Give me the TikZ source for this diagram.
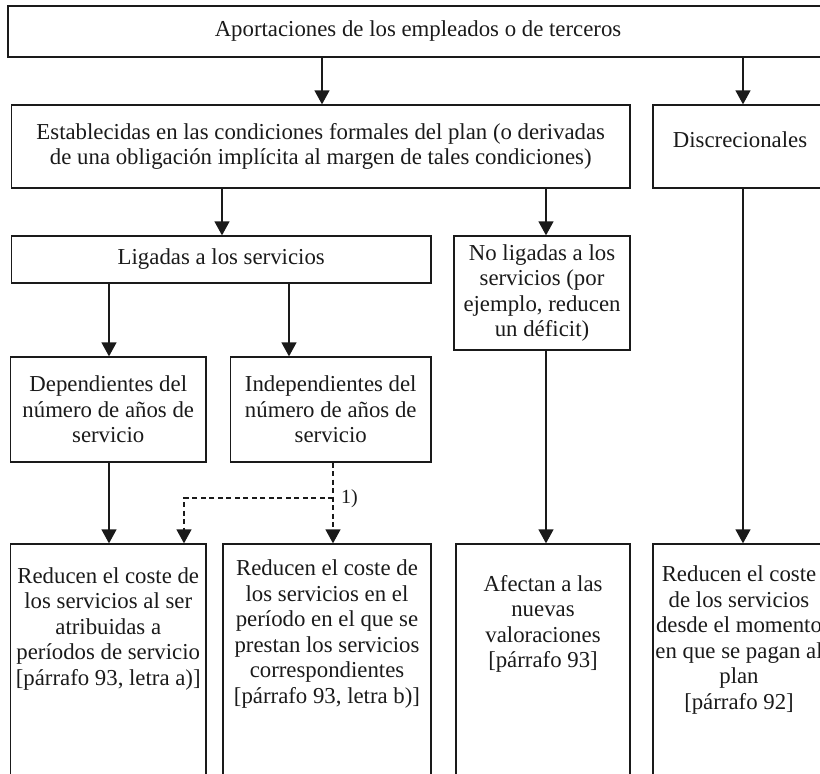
\documentclass[tikz,border=0pt]{standalone}
\usepackage{fontspec}
\setmainfont{Liberation Serif}
\usetikzlibrary{arrows.meta}
\definecolor{ink}{HTML}{1A1A1A}
\newcommand\dtxt{\fontsize{22.8pt}{25.5pt}\selectfont}
\newcommand\dsmall{\fontsize{20pt}{22pt}\selectfont}
\begin{document}
\begin{tikzpicture}[x=1pt,y=-1pt,
  box/.style={draw=ink, line width=1.3pt, rectangle, inner sep=0pt, align=center, font=\dtxt, text=ink},
  txt/.style={align=center, font=\dtxt, inner sep=0pt, text=ink},
  arr/.style={draw=ink, line width=1.3pt, -{Triangle[length=14pt,width=15pt]}},
  dsh/.style={arr, dash pattern=on 5pt off 3.5pt}]
\path[use as bounding box] (0,0) rectangle (820,774);
\clip (0,0) rectangle (820,774);

% boxes
\node[box, minimum width=820pt, minimum height=51pt] (top) at (418,31.5) {Aportaciones de los empleados o de terceros};
\node[box, minimum width=618.5pt, minimum height=83pt] (est) at (320.75,146.5) {Establecidas en las condiciones formales del plan (o derivadas\\de una obligación implícita al margen de tales condiciones)};
\node[box, minimum width=174pt, minimum height=83pt] (disc) at (740,146.5) {};
\node[txt] (disct) at (740,140) {Discrecionales};
\node[box, minimum width=419.5pt, minimum height=47pt] (lig) at (221.25,259.5) {Ligadas a los servicios};
\node[box, minimum width=176pt, minimum height=114pt] (nolig) at (542,293) {No ligadas a los\\servicios (por\\ejemplo, reducen\\un déficit)};
\node[box, minimum width=195.5pt, minimum height=105pt] (dep) at (108.25,409.5) {Dependientes del\\número de años de\\servicio};
\node[box, minimum width=200.5pt, minimum height=105pt] (indep) at (330.75,409.5) {Independientes del\\número de años de\\servicio};
\node[box, minimum width=195.5pt, minimum height=256pt] (b1) at (108.25,672) {};
\node[box, minimum width=208pt, minimum height=256pt] (b2) at (327,672) {};
\node[box, minimum width=174pt, minimum height=256pt] (b3) at (543,672) {};
\node[box, minimum width=172pt, minimum height=256pt] (b4) at (739,672) {};

\node[txt] (b1t) at (108.25,629) {Reducen el coste de\\los servicios al ser\\atribuidas a\\períodos de servicio\\{[}párrafo 93, letra a){]}};
\node[txt] (b2t) at (327,634) {Reducen el coste de\\los servicios en el\\período en el que se\\prestan los servicios\\correspondientes\\{[}párrafo 93, letra b){]}};
\node[txt] (b3t) at (543,624) {Afectan a las\\nuevas\\valoraciones\\{[}párrafo 93{]}};
\node[txt] (b4t) at (739,640) {Reducen el coste\\de los servicios\\desde el momento\\en que se pagan al\\plan\\{[}párrafo 92{]}};

% column positions
\coordinate (xA) at (322,0);
\coordinate (xB) at (743,0);
\coordinate (xC) at (222,0);
\coordinate (xD) at (546,0);
\coordinate (xE) at (109,0);
\coordinate (xF) at (289,0);
\coordinate (xG) at (333,0);
\coordinate (xH) at (184,0);
\coordinate (split) at (333,498);
\coordinate (bend) at (184,498);

% connectors
\draw[arr] (top.south -| xA) -- (est.north -| xA);
\draw[arr] (top.south -| xB) -- (disc.north -| xB);
\draw[arr] (est.south -| xC) -- (lig.north -| xC);
\draw[arr] (est.south -| xD) -- (nolig.north -| xD);
\draw[arr] (lig.south -| xE) -- (dep.north -| xE);
\draw[arr] (lig.south -| xF) -- (indep.north -| xF);
\draw[arr] (dep.south -| xE) -- (b1.north -| xE);
\draw[arr] (nolig.south -| xD) -- (b3.north -| xD);
\draw[arr] (disc.south -| xB) -- (b4.north -| xB);
\draw[dsh] (indep.south -| xG) -- (b2.north -| xG);
\draw[dsh] (split) -- (bend) -- (b1.north -| xH);
\node[txt, font=\dsmall, anchor=west] (lab) at (341,499) {1)};
\end{tikzpicture}
\end{document}
